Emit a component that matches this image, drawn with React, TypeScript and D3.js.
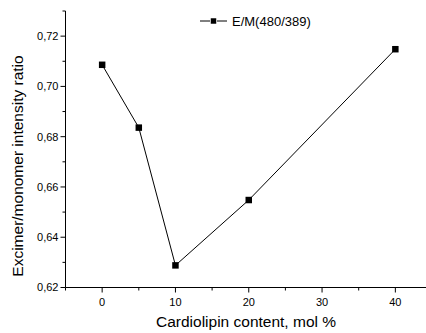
import React, { useEffect, useRef } from "react";
import * as d3 from "d3";

const cardiolipin = [0, 5, 10, 20, 40];
const ratio = [0.7086, 0.6836, 0.6288, 0.6548, 0.7148];
const xTicks = [0, 10, 20, 30, 40];
const yTicks = [0.62, 0.64, 0.66, 0.68, 0.7, 0.72];
const seriesName = "E/M(480/389)";

const App = () => {
  const svgRef = useRef<SVGSVGElement>(null);

  useEffect(() => {
    const width = 426, height = 333;
    const font = "Liberation Sans, Arial, sans-serif";
    const svg = d3.select(svgRef.current)
      .attr("width", width)
      .attr("height", height);
    svg.selectAll("*").remove();

    const x = d3.scaleLinear().domain([-5, 45]).range([65.5, 432]);
    const y = d3.scaleLinear().domain([0.62, 0.73]).range([287.5, 11]);

    const fmt = (v: number) => d3.format(".2f")(v).replace(".", ",");

    // x axis
    const xAxis = svg.append("g").attr("transform", `translate(0, ${y(0.62)})`);
    xAxis.append("line").attr("x1", x(-5)).attr("x2", width).attr("stroke", "black");
    xAxis.selectAll(".minor").data(d3.range(-5, 50, 10)).enter().append("line")
      .attr("x1", d => x(d)).attr("x2", d => x(d)).attr("y1", 0).attr("y2", 3)
      .attr("stroke", "black");
    xAxis.selectAll(".major").data(xTicks).enter().append("line")
      .attr("x1", d => x(d)).attr("x2", d => x(d)).attr("y1", 0).attr("y2", 5)
      .attr("stroke", "black");
    xAxis.selectAll("text").data(xTicks).enter().append("text")
      .attr("x", d => x(d)).attr("y", 18)
      .attr("text-anchor", "middle")
      .attr("font-family", font).attr("font-size", 11)
      .text(d => d);

    // y axis
    const yAxis = svg.append("g").attr("transform", `translate(${x(-5)}, 0)`);
    yAxis.append("line").attr("y1", y(0.62)).attr("y2", y(0.73)).attr("stroke", "black");
    yAxis.selectAll(".minor").data(d3.range(0.63, 0.735, 0.02)).enter().append("line")
      .attr("y1", d => y(d)).attr("y2", d => y(d)).attr("x1", 0).attr("x2", -3)
      .attr("stroke", "black");
    yAxis.selectAll(".major").data(yTicks).enter().append("line")
      .attr("y1", d => y(d)).attr("y2", d => y(d)).attr("x1", 0).attr("x2", -5)
      .attr("stroke", "black");
    yAxis.selectAll("text").data(yTicks).enter().append("text")
      .attr("x", -7).attr("y", d => y(d)).attr("dy", "0.35em")
      .attr("text-anchor", "end")
      .attr("font-family", font).attr("font-size", 11)
      .text(d => fmt(d));

    // axis titles
    svg.append("text")
      .attr("x", 246).attr("y", 327)
      .attr("text-anchor", "middle")
      .attr("font-family", font).attr("font-size", 15.5)
      .text("Cardiolipin content, mol %");
    svg.append("text")
      .attr("transform", "translate(23, 166) rotate(-90)")
      .attr("text-anchor", "middle")
      .attr("font-family", font).attr("font-size", 15.5)
      .text("Excimer/monomer intensity ratio");

    // series
    const pts = cardiolipin.map((c, i) => [c, ratio[i]] as [number, number]);
    const line = d3.line<[number, number]>().x(d => x(d[0])).y(d => y(d[1]));
    svg.append("path").datum(pts)
      .attr("d", line)
      .attr("fill", "none").attr("stroke", "black").attr("stroke-width", 1);
    const sym = d3.symbol().type(d3.symbolSquare).size(42);
    svg.selectAll(".pt").data(pts).enter().append("path")
      .attr("transform", d => `translate(${x(d[0])}, ${y(d[1])})`)
      .attr("d", sym())
      .attr("fill", "black");

    // legend
    const lg = svg.append("g").attr("transform", "translate(200, 21)");
    lg.append("line").attr("x1", 0).attr("x2", 10).attr("stroke", "black");
    lg.append("line").attr("x1", 17).attr("x2", 27).attr("stroke", "black");
    lg.append("path").attr("transform", "translate(13.5, 0)")
      .attr("d", d3.symbol().type(d3.symbolSquare).size(30)())
      .attr("fill", "black");
    lg.append("text").attr("x", 32).attr("dy", "0.35em")
      .attr("font-family", font).attr("font-size", 13)
      .text(seriesName);
  }, []);

  return <svg ref={svgRef} style={{ position: "absolute", left: 0, top: 0 }}></svg>;
};

export default App;
